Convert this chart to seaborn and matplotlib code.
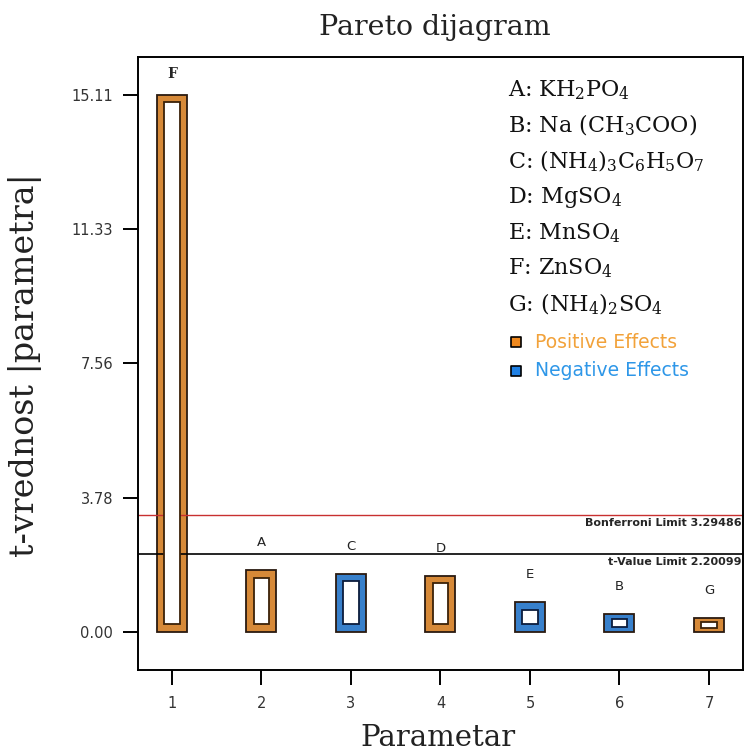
import matplotlib
matplotlib.use("Agg")
import matplotlib.pyplot as plt
import seaborn as sns

# values
params = ["1", "2", "3", "4", "5", "6", "7"]
effect_letters = ["F", "A", "C", "D", "E", "B", "G"]
t_values = [15.11, 1.74, 1.63, 1.58, 0.84, 0.51, 0.39]
effect_sign = ["Positive", "Positive", "Negative", "Positive", "Negative", "Negative", "Positive"]
y_ticks = [0.00, 3.78, 7.56, 11.33, 15.11]
bonferroni_limit = 3.29486
t_limit = 2.20099
factor_names = [
    r"A: KH$_2$PO$_4$",
    r"B: Na (CH$_3$COO)",
    r"C: (NH$_4$)$_3$C$_6$H$_5$O$_7$",
    r"D: MgSO$_4$",
    r"E: MnSO$_4$",
    r"F: ZnSO$_4$",
    r"G: (NH$_4$)$_2$SO$_4$",
]

ORANGE = "#F0891E"
BLUE = "#1F80E4"
EDGE = {"Positive": "#3a2108", "Negative": "#0c1c3c"}
TEXT_COL = {"Positive": "#F2A23A", "Negative": "#2E97E8"}

sns.set_style("white")
plt.rcParams["font.family"] = ["DejaVu Sans"]
plt.rcParams["mathtext.fontset"] = "dejavuserif"

fig = plt.figure(figsize=(7.45, 7.51), dpi=100)
ax = fig.add_axes([0.1852, 0.1079, 0.8121, 0.8162])

sns.barplot(
    x=params, y=t_values, hue=effect_sign,
    palette={"Positive": ORANGE, "Negative": BLUE},
    dodge=False, width=0.335, legend=False, ax=ax,
    edgecolor="#2a1a10", linewidth=1.3,
)

# inner white rectangles that make the bars look hollow
for i, (v, s) in enumerate(zip(t_values, effect_sign)):
    inner = max(v - 0.42, v * 0.4)
    ax.bar(i, inner, width=0.17, bottom=(v - inner) / 2, color="white",
           edgecolor=EDGE[s], linewidth=1.3, zorder=3)
    if s == "Positive" and v > 10:
        ax.annotate(effect_letters[i], (i, v), xytext=(0, 15), textcoords="offset points",
                    ha="center", va="center", fontsize=10, fontweight="bold",
                    family="DejaVu Serif")
    else:
        ax.annotate(effect_letters[i], (i, v), xytext=(0, 20), textcoords="offset points",
                    ha="center", va="center", fontsize=9.5, color="#222222")

ax.axhline(bonferroni_limit, color="#c83030", lw=1.0, zorder=1)
ax.axhline(t_limit, color="black", lw=1.2, zorder=1)
ax.text(0.997, bonferroni_limit - 0.1, f"Bonferroni Limit {bonferroni_limit:.5f}",
        transform=ax.get_yaxis_transform(), ha="right", va="top", fontsize=8.0,
        fontweight="semibold")
ax.text(0.997, t_limit - 0.1, f"t-Value Limit {t_limit:.5f}",
        transform=ax.get_yaxis_transform(), ha="right", va="top", fontsize=8.0,
        fontweight="semibold")

ax.set_xlim(-0.38, 6.38)
ax.set_ylim(-1.07, 16.18)
ax.set_yticks(y_ticks)
ax.set_yticklabels([f"{t:.2f}" for t in y_ticks])
ax.tick_params(axis="both", which="major", direction="out", length=11, width=1.4,
               colors="black", labelcolor="#333333", labelsize=10.5,
               bottom=True, left=True)
ax.tick_params(axis="y", pad=7)
ax.tick_params(axis="x", pad=8)
ax.set_xlabel("")
ax.set_ylabel("")
for sp in ax.spines.values():
    sp.set_visible(True)
    sp.set_color("black")
    sp.set_linewidth(1.4)

# factor key in the upper right
for k, name in enumerate(factor_names):
    ax.text(0.612, 0.946 - k * 0.0582, name, transform=ax.transAxes,
            ha="left", va="center", fontsize=16, family="DejaVu Serif", color="#111111")
for k, s in enumerate(["Positive", "Negative"]):
    y = 0.535 - k * 0.047
    ax.scatter([0.625], [y], marker="s", s=55, color=ORANGE if s == "Positive" else BLUE,
               edgecolor="black", linewidth=1.2, transform=ax.transAxes, zorder=5)
    ax.text(0.656, y, f"{s} Effects", transform=ax.transAxes, ha="left", va="center",
            fontsize=13.5, color=TEXT_COL[s])

fig.text(0.584, 0.964, "Pareto dijagram", ha="center", va="center",
         fontsize=20.5, family="DejaVu Serif", color="#222222")
fig.text(0.034, 0.514, "t-vrednost |parametra|", ha="center", va="center",
         rotation=90, fontsize=24, family="DejaVu Serif", color="#222222")
fig.text(0.588, 0.0173, "Parametar", ha="center", va="center",
         fontsize=21, family="DejaVu Serif", color="#222222")

fig.savefig("out.png", dpi=100)
